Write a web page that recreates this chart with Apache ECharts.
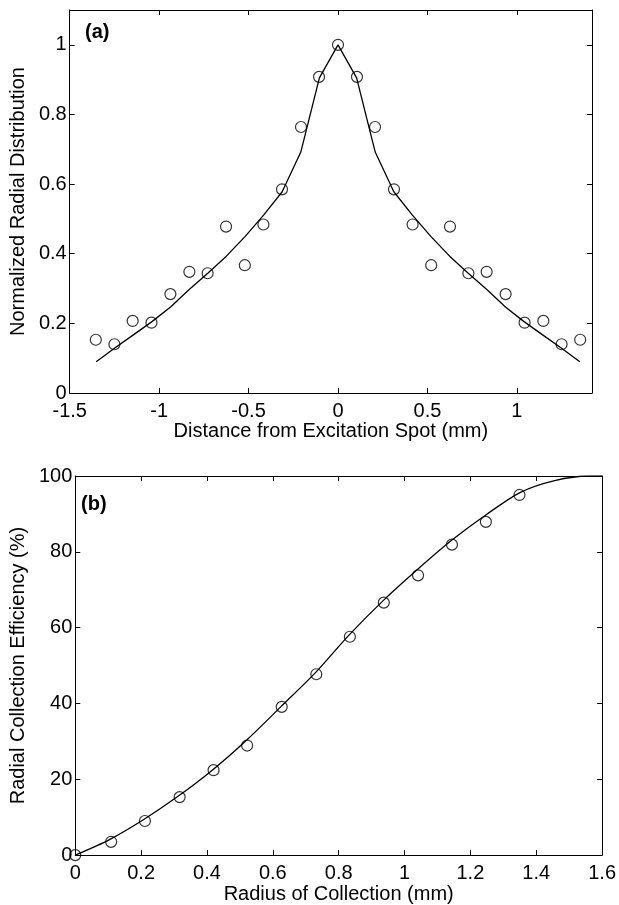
<!DOCTYPE html>
<html>
<head>
<meta charset="utf-8">
<script src="https://cdn.jsdelivr.net/npm/echarts@6/dist/echarts.min.js"></script>
<style>
html,body{margin:0;padding:0;background:#fff;}
#c{width:619px;height:905px;}
</style>
</head>
<body>
<div id="c"></div>
<script>
// Panel (a): measured points
const distA = [-1.354, -1.250, -1.148, -1.043, -0.937, -0.831, -0.729, -0.626, -0.521, -0.417, -0.313, -0.207, -0.106, 0,
               0.106, 0.207, 0.313, 0.417, 0.521, 0.626, 0.729, 0.831, 0.937, 1.043, 1.148, 1.250, 1.354];
const radA = [0.153, 0.140, 0.207, 0.202, 0.284, 0.348, 0.344, 0.478, 0.367, 0.484, 0.585, 0.764, 0.908, 1.0,
              0.908, 0.764, 0.585, 0.484, 0.367, 0.478, 0.344, 0.348, 0.284, 0.202, 0.207, 0.140, 0.153];
// Panel (a): model curve
const fitDistA = [-1.352, -1.248, -1.144, -1.040, -0.936, -0.832, -0.728, -0.624, -0.520, -0.416, -0.312, -0.208, -0.104, 0,
                  0.104, 0.208, 0.312, 0.416, 0.520, 0.624, 0.728, 0.832, 0.936, 1.040, 1.144, 1.248, 1.352];
const fitRadA = [0.090, 0.129, 0.167, 0.205, 0.247, 0.297, 0.344, 0.393, 0.449, 0.511, 0.578, 0.692, 0.905, 1.0,
                 0.905, 0.692, 0.578, 0.511, 0.449, 0.393, 0.344, 0.297, 0.247, 0.205, 0.167, 0.129, 0.090];
// Panel (b): measured points
const radiusB = [0, 0.109, 0.2115, 0.317, 0.420, 0.522, 0.627, 0.732, 0.834, 0.937, 1.041, 1.144, 1.247, 1.349];
const effB = [0, 3.5, 9.0, 15.3, 22.4, 28.9, 39.1, 47.7, 57.6, 66.6, 73.8, 81.9, 87.9, 95.0];
// Panel (b): model curve
const fitRadiusB = [0, 0.104, 0.208, 0.312, 0.416, 0.520, 0.624, 0.728, 0.832, 0.936, 1.040, 1.144, 1.248, 1.352, 1.456, 1.560, 1.600];
const fitEffB = [0, 4.1, 9.4, 15.5, 22.4, 30.3, 39.1, 48.0, 58.1, 67.2, 75.4, 83.1, 89.8, 95.7, 98.8, 100, 100];

// Text
const titleA = '(a)', titleB = '(b)';
const xNameA = 'Distance from Excitation Spot (mm)';
const yNameA = 'Normalized Radial Distribution';
const xNameB = 'Radius of Collection (mm)';
const yNameB = 'Radial Collection Efficiency (%)';

const FONT = "'Liberation Sans', Arial, sans-serif";
const txt = {color:'#000', fontFamily:FONT, fontSize:20};

function pairs(xs, ys){ return xs.map((x,i)=>[x, ys[i]]); }

function mainX(grid, min, max, interval, name, showMax){
  return {
    type:'value', gridIndex:grid, position:'bottom', min:min, max:max, interval:interval,
    name:name, nameLocation:'middle', nameGap:24, nameTextStyle:txt,
    axisLine:{show:true, onZero:false, lineStyle:{color:'#000', width:1}},
    axisTick:{show:true, inside:true, length:5, lineStyle:{color:'#000'}},
    axisLabel:Object.assign({margin:8, showMaxLabel:showMax}, txt),
    splitLine:{show:false}
  };
}
function sideX(grid, min, max, interval){
  return {
    type:'value', gridIndex:grid, position:'top', min:min, max:max, interval:interval,
    axisLine:{show:true, onZero:false, lineStyle:{color:'#000', width:1}},
    axisTick:{show:true, inside:true, length:5, lineStyle:{color:'#000'}},
    axisLabel:{show:false}, splitLine:{show:false}
  };
}
function mainY(grid, min, max, interval, name, showMax){
  return {
    type:'value', gridIndex:grid, position:'left', min:min, max:max, interval:interval,
    name:name, nameLocation:'middle', nameGap:35, nameTextStyle:txt,
    axisLine:{show:true, onZero:false, lineStyle:{color:'#000', width:1}},
    axisTick:{show:true, inside:true, length:5, lineStyle:{color:'#000'}},
    axisLabel:Object.assign({margin:3, showMaxLabel:showMax}, txt),
    splitLine:{show:false}
  };
}
function sideY(grid, min, max, interval){
  return {
    type:'value', gridIndex:grid, position:'right', min:min, max:max, interval:interval,
    axisLine:{show:true, onZero:false, lineStyle:{color:'#000', width:1}},
    axisTick:{show:true, inside:true, length:5, lineStyle:{color:'#000'}},
    axisLabel:{show:false}, splitLine:{show:false}
  };
}

const markerStyle = {color:'rgba(0,0,0,0)', borderColor:'#000', borderWidth:1.2};

const option = {
  backgroundColor:'#fff',
  animation:false,
  title:[
    {text:titleA, left:80, top:17, textStyle:{color:'#000', fontFamily:FONT, fontSize:20, fontWeight:'bold'}},
    {text:titleB, left:76, top:489, textStyle:{color:'#000', fontFamily:FONT, fontSize:20, fontWeight:'bold'}}
  ],
  grid:[
    {left:66, top:10, right:27, bottom:512},
    {left:63, top:476, right:16, bottom:43}
  ],
  xAxis:[
    mainX(0, -1.5, 1.42, 0.5, xNameA, false),
    sideX(0, -1.5, 1.42, 0.5),
    mainX(1, 0, 1.6, 0.2, xNameB, true),
    sideX(1, 0, 1.6, 0.2)
  ],
  yAxis:[
    mainY(0, 0, 1.1, 0.2, yNameA, false),
    sideY(0, 0, 1.1, 0.2),
    mainY(1, 0, 100, 20, yNameB, true),
    sideY(1, 0, 100, 20)
  ],
  series:[
    {type:'line', xAxisIndex:0, yAxisIndex:0, data:pairs(fitDistA, fitRadA), showSymbol:false, smooth:false,
     lineStyle:{color:'#000', width:1.3}, z:2},
    {type:'scatter', xAxisIndex:0, yAxisIndex:0, data:pairs(distA, radA), symbol:'circle', symbolSize:11,
     itemStyle:markerStyle, z:3},
    {type:'line', xAxisIndex:2, yAxisIndex:2, data:pairs(fitRadiusB, fitEffB), showSymbol:false, smooth:0.3,
     lineStyle:{color:'#000', width:1.3}, z:2},
    {type:'scatter', xAxisIndex:2, yAxisIndex:2, data:pairs(radiusB, effB), symbol:'circle', symbolSize:11,
     itemStyle:markerStyle, z:3}
  ]
};
const chart = echarts.init(document.getElementById('c'), null, {renderer:'canvas'});
chart.setOption(option);
</script>
</body>
</html>
